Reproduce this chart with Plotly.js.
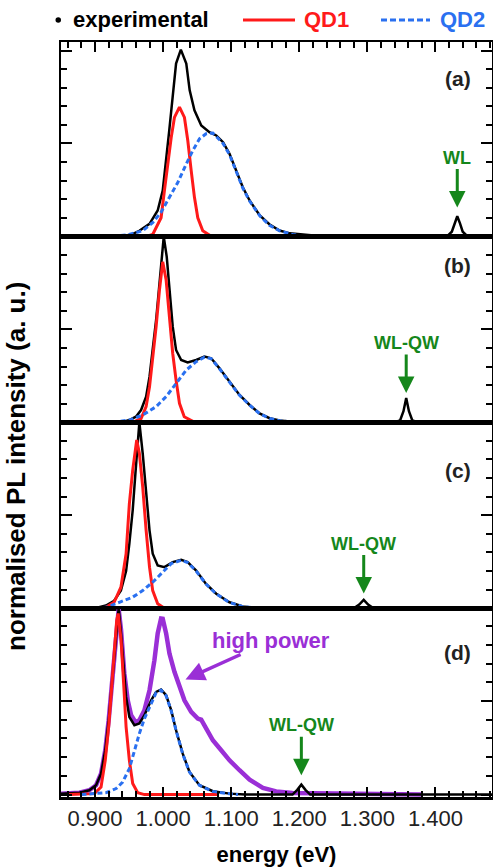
<!DOCTYPE html>
<html>
<head>
<meta charset="utf-8">
<script src="https://cdn.plot.ly/plotly-3.0.1.min.js"></script>
<style>html,body{margin:0;padding:0;background:#fff;}#chart{width:493px;height:867px;}</style>
</head>
<body>
<div id="chart"></div>
<script>
// ---- panel (a) ----
const aExpE = [0.85, 0.90, 0.92, 0.94, 0.955, 0.965, 0.980, 0.992, 0.9994, 1.004, 1.009, 1.014, 1.019, 1.026, 1.034, 1.039, 1.046, 1.056, 1.068, 1.078, 1.088, 1.0975, 1.107, 1.117, 1.127, 1.142, 1.156, 1.171, 1.186, 1.205, 1.225, 1.30, 1.40, 1.418, 1.424, 1.428, 1.432, 1.436, 1.440, 1.446, 1.485];
const aExpV = [0.0, 0.0, -0.005, 0.0, 0.012, 0.03, 0.067, 0.139, 0.246, 0.39, 0.57, 0.75, 0.93, 1.005, 0.93, 0.786, 0.678, 0.597, 0.561, 0.543, 0.507, 0.444, 0.354, 0.264, 0.193, 0.112, 0.065, 0.031, 0.016, 0.008, 0.003, 0.0, 0.0, 0.004, 0.025, 0.07, 0.108, 0.07, 0.025, 0.004, 0.0];
const aQd1E = [0.92, 0.975, 0.9847, 0.997, 1.0019, 1.0068, 1.0118, 1.0166, 1.024, 1.0313, 1.0362, 1.0412, 1.046, 1.0509, 1.0582, 1.0706, 1.21];
const aQd1V = [0, 0, 0.01, 0.10, 0.246, 0.39, 0.53, 0.64, 0.696, 0.64, 0.516, 0.354, 0.21, 0.10, 0.03, 0, 0];
const aQd2E = [0.926, 0.95, 0.970, 0.985, 0.997, 1.0093, 1.0215, 1.034, 1.0436, 1.0534, 1.063, 1.073, 1.088, 1.0975, 1.107, 1.117, 1.127, 1.142, 1.156, 1.171, 1.19, 1.21];
const aQd2V = [0, 0.01, 0.03, 0.075, 0.13, 0.21, 0.29, 0.39, 0.462, 0.525, 0.552, 0.556, 0.50, 0.44, 0.35, 0.26, 0.19, 0.11, 0.06, 0.03, 0.01, 0.0];

// ---- panel (b) ----
const bExpE = [0.85, 0.94, 0.9504, 0.960, 0.9676, 0.975, 0.980, 0.9847, 0.9897, 0.9946, 0.998, 1.0009, 1.0053, 1.0093, 1.0141, 1.019, 1.0265, 1.036, 1.0485, 1.0607, 1.0706, 1.0828, 1.0975, 1.1122, 1.127, 1.1416, 1.1563, 1.171, 1.19, 1.34, 1.348, 1.353, 1.357, 1.361, 1.366, 1.374, 1.485];
const bExpV = [0, 0, 0.012, 0.03, 0.066, 0.138, 0.245, 0.389, 0.55, 0.746, 0.89, 0.998, 0.89, 0.711, 0.514, 0.389, 0.335, 0.322, 0.335, 0.353, 0.344, 0.29, 0.218, 0.147, 0.093, 0.048, 0.022, 0.01, 0.003, 0, 0.01, 0.06, 0.13, 0.06, 0.01, 0, 0];
const bQd1E = [0.93, 0.955, 0.9676, 0.975, 0.980, 0.9847, 0.9897, 0.9946, 0.9994, 1.0044, 1.0093, 1.0141, 1.019, 1.024, 1.031, 1.045, 1.19];
const bQd1V = [0, 0, 0.02, 0.084, 0.191, 0.335, 0.514, 0.711, 0.863, 0.765, 0.567, 0.37, 0.227, 0.102, 0.03, 0.003, 0];
const bQd2E = [0.926, 0.9504, 0.970, 0.9897, 1.0044, 1.019, 1.034, 1.0485, 1.0607, 1.0706, 1.0828, 1.0975, 1.1122, 1.127, 1.1416, 1.1563, 1.171, 1.19];
const bQd2V = [0, 0.012, 0.039, 0.084, 0.138, 0.21, 0.281, 0.326, 0.35, 0.342, 0.288, 0.216, 0.145, 0.092, 0.047, 0.021, 0.009, 0];

// ---- panel (c) ----
const cExpE = [0.85, 0.90, 0.916, 0.928, 0.938, 0.9456, 0.9504, 0.9553, 0.9593, 0.9627, 0.9651, 0.970, 0.975, 0.980, 0.9847, 0.992, 1.0019, 1.0141, 1.0265, 1.036, 1.0485, 1.063, 1.078, 1.0975, 1.117, 1.14, 1.28, 1.288, 1.2946, 1.301, 1.309, 1.485];
const cExpV = [0, 0, 0.015, 0.04, 0.095, 0.2, 0.347, 0.527, 0.725, 0.905, 1.0, 0.833, 0.617, 0.419, 0.293, 0.23, 0.221, 0.248, 0.261, 0.248, 0.203, 0.131, 0.078, 0.032, 0.01, 0, 0, 0.02, 0.045, 0.02, 0, 0];
const cQd1E = [0.90, 0.916, 0.928, 0.938, 0.9456, 0.9504, 0.9553, 0.9612, 0.9651, 0.970, 0.975, 0.980, 0.9847, 0.992, 1.002, 1.145];
const cQd1V = [0, 0.005, 0.032, 0.113, 0.293, 0.563, 0.743, 0.905, 0.833, 0.653, 0.42, 0.221, 0.095, 0.024, 0, 0];
const cQd2E = [0.90, 0.916, 0.9357, 0.9553, 0.970, 0.9847, 0.9994, 1.0118, 1.0265, 1.036, 1.0485, 1.063, 1.078, 1.0975, 1.117, 1.14];
const cQd2V = [0, 0.005, 0.032, 0.06, 0.095, 0.14, 0.194, 0.24, 0.258, 0.246, 0.2, 0.13, 0.077, 0.031, 0.009, 0];

// ---- panel (d) ----
const dExpE = [0.85, 0.877, 0.8916, 0.9015, 0.9088, 0.915, 0.920, 0.925, 0.9289, 0.9318, 0.9347, 0.9382, 0.9416, 0.9456, 0.9504, 0.9578, 0.9651, 0.9725, 0.9824, 0.9897, 0.997, 1.0044, 1.0118, 1.019, 1.0288, 1.0387, 1.0534, 1.073, 1.0975, 1.12, 1.19, 1.197, 1.203, 1.209, 1.216, 1.485];
const dExpV = [0.005, 0.01, 0.023, 0.05, 0.112, 0.237, 0.397, 0.594, 0.772, 0.896, 0.995, 0.861, 0.682, 0.522, 0.415, 0.371, 0.38, 0.424, 0.504, 0.549, 0.561, 0.531, 0.451, 0.344, 0.219, 0.121, 0.05, 0.018, 0.005, 0, 0, 0.025, 0.053, 0.025, 0, 0];
const dHighE = [0.85, 0.877, 0.8916, 0.9015, 0.9088, 0.915, 0.920, 0.925, 0.9289, 0.9318, 0.9347, 0.9382, 0.943, 0.948, 0.953, 0.9593, 0.9651, 0.9725, 0.980, 0.9872, 0.992, 0.997, 0.9994, 1.0044, 1.0093, 1.0166, 1.024, 1.0313, 1.0412, 1.0509, 1.0559, 1.063, 1.073, 1.0853, 1.0975, 1.1122, 1.127, 1.1465, 1.166, 1.19, 1.25, 1.38];
const dHighV = [0.005, 0.01, 0.023, 0.05, 0.112, 0.237, 0.397, 0.594, 0.772, 0.896, 0.99, 0.88, 0.647, 0.504, 0.424, 0.388, 0.397, 0.451, 0.558, 0.718, 0.861, 0.941, 0.94, 0.861, 0.754, 0.656, 0.575, 0.504, 0.442, 0.406, 0.40, 0.353, 0.29, 0.237, 0.183, 0.13, 0.08, 0.036, 0.017, 0.008, 0.004, 0.0];
const dQd1E = [0.86, 0.899, 0.9088, 0.915, 0.920, 0.925, 0.9289, 0.9318, 0.934, 0.9382, 0.942, 0.9456, 0.9504, 0.9553, 0.9627, 0.9725, 1.08];
const dQd1V = [0, 0.005, 0.04, 0.183, 0.362, 0.594, 0.79, 0.932, 0.968, 0.825, 0.594, 0.362, 0.183, 0.059, 0.01, 0, 0];
const dQd2E = [0.88, 0.9015, 0.916, 0.931, 0.9406, 0.9504, 0.9578, 0.9651, 0.9725, 0.9824, 0.9897, 0.997, 1.0044, 1.0118, 1.019, 1.0288, 1.0387, 1.0534, 1.073, 1.0975, 1.11];
const dQd2V = [0, 0.005, 0.01, 0.032, 0.067, 0.139, 0.237, 0.326, 0.406, 0.487, 0.545, 0.558, 0.528, 0.448, 0.342, 0.217, 0.12, 0.049, 0.017, 0.004, 0];

const xTickVals = [0.9, 1.0, 1.1, 1.2, 1.3, 1.4];
const xTickText = ['0.900', '1.000', '1.100', '1.200', '1.300', '1.400'];
const panelLabels = ['(a)', '(b)', '(c)', '(d)'];
const peakLabels = ['WL', 'WL-QW', 'WL-QW', 'WL-QW'];
const peakE = [1.432, 1.357, 1.2946, 1.203];
const peakTipV = [0.155, 0.158, 0.079, 0.103];

const FONT = 'Liberation Sans, Arial, sans-serif';
const RED = '#ff1a1a', BLUE = '#2a70f0', GREEN = '#15871b', PURPLE = '#9a2fd6';

const panels = [
  {exE: aExpE, exV: aExpV, q1E: aQd1E, q1V: aQd1V, q2E: aQd2E, q2V: aQd2V},
  {exE: bExpE, exV: bExpV, q1E: bQd1E, q1V: bQd1V, q2E: bQd2E, q2V: bQd2V},
  {exE: cExpE, exV: cExpV, q1E: cQd1E, q1V: cQd1V, q2E: cQd2E, q2V: cQd2V},
  {exE: dExpE, exV: dExpV, q1E: dQd1E, q1V: dQd1V, q2E: dQd2E, q2V: dQd2V}
];

const traces = [];
traces.push({x: dHighE, y: dHighV, xaxis: 'x4', yaxis: 'y4', mode: 'lines', name: 'high power',
  line: {color: PURPLE, width: 4.5}, showlegend: false});
panels.forEach((p, i) => {
  const xa = i === 0 ? 'x' : 'x' + (i + 1);
  const ya = i === 0 ? 'y' : 'y' + (i + 1);
  traces.push({x: p.exE, y: p.exV, xaxis: xa, yaxis: ya, mode: 'lines', name: 'experimental',
    line: {color: '#000', width: 2.5}, showlegend: false});
  traces.push({x: p.q1E, y: p.q1V, xaxis: xa, yaxis: ya, mode: 'lines', name: 'QD1',
    line: {color: RED, width: 3}, showlegend: false});
  traces.push({x: p.q2E, y: p.q2V, xaxis: xa, yaxis: ya, mode: 'lines', name: 'QD2',
    line: {color: BLUE, width: 3, dash: '5px,3px'}, showlegend: false});
});

const xRange = [0.85, 1.483];
const domains = [[0.7426, 1], [0.4963, 0.7426], [0.25, 0.4963], [0, 0.25]];
const yRanges = [[0, 1.046], [0, 1.0], [0, 1.0], [-0.013, 0.996]];

const layout = {
  width: 493, height: 867,
  margin: {l: 61, r: 1, t: 42, b: 70},
  paper_bgcolor: '#fff', plot_bgcolor: '#fff',
  font: {family: FONT, color: '#000'},
  showlegend: false,
  annotations: [], shapes: []
};

for (let i = 0; i < 4; i++) {
  const xk = i === 0 ? 'xaxis' : 'xaxis' + (i + 1);
  const yk = i === 0 ? 'yaxis' : 'yaxis' + (i + 1);
  const yid = i === 0 ? 'y' : 'y' + (i + 1);
  const xid = i === 0 ? 'x' : 'x' + (i + 1);
  const xa = {
    anchor: yid, range: xRange, showgrid: false, zeroline: false,
    showline: true, linecolor: '#000', linewidth: 2.5, mirror: true,
    showticklabels: false, ticks: ''
  };
  if (i > 0) xa.matches = 'x';
  if (i === 0) {
    Object.assign(xa, {side: 'top', ticks: 'inside', ticklen: 10, tickwidth: 2, tickcolor: '#000',
      tickvals: xTickVals, minor: {dtick: 0.02, tick0: 0.84, ticks: 'inside', ticklen: 6, tickwidth: 2, tickcolor: '#000'}});
  }
  if (i === 3) {
    Object.assign(xa, {side: 'bottom', ticks: 'inside', ticklen: 10, tickwidth: 2, tickcolor: '#000',
      tickvals: xTickVals, ticktext: xTickText, showticklabels: true,
      tickfont: {family: FONT, size: 22, color: '#222'},
      minor: {dtick: 0.02, tick0: 0.84, ticks: 'inside', ticklen: 6, tickwidth: 2, tickcolor: '#000'},
      title: {text: '<b>energy (eV)</b>', font: {family: FONT, size: 22, color: '#000'}, standoff: 18}});
  }
  layout[xk] = xa;
  layout[yk] = {
    anchor: xid, domain: domains[i], range: yRanges[i], showgrid: false, zeroline: false,
    showline: true, linecolor: '#000', linewidth: 2.5, mirror: 'ticks',
    showticklabels: false, ticks: 'inside', ticklen: 11, tickwidth: 2, tickcolor: '#000',
    tick0: 0, dtick: 0.5,
    minor: {dtick: 0.1, tick0: 0, ticks: 'inside', ticklen: 6, tickwidth: 2, tickcolor: '#000'}
  };
  const labY = [0.951, 0.7046, 0.433, 0.192][i];
  layout.annotations.push({xref: 'paper', yref: 'paper', x: 0.921, y: labY, text: '<b>' + panelLabels[i] + '</b>',
    showarrow: false, font: {family: FONT, size: 21, color: '#222'}, xanchor: 'center', yanchor: 'middle'});
  layout.annotations.push({xref: xid, yref: yid, x: peakE[i], y: peakTipV[i], text: '<b>' + peakLabels[i] + '</b>',
    showarrow: true, arrowhead: 2, arrowsize: 1.1, arrowwidth: 3, arrowcolor: GREEN, ax: 0, ay: -50, standoff: 0,
    font: {family: FONT, size: 18, color: GREEN}});
}

layout.annotations.push({xref: 'x4', yref: 'y4', x: 1.0328, y: 0.615, text: '<b>high power</b>',
  showarrow: true, arrowhead: 2, arrowsize: 1.1, arrowwidth: 3.5, arrowcolor: PURPLE, ax: 86, ay: -39, standoff: 0,
  font: {family: FONT, size: 22, color: PURPLE}});

layout.annotations.push({xref: 'paper', yref: 'paper', x: (16 - 61) / 431, y: (797 - 467) / 755, text: '<b>normalised PL intensity (a. u.)</b>',
  textangle: -90, showarrow: false, xanchor: 'center', yanchor: 'middle', font: {family: FONT, size: 26, color: '#000'}});

const ly = (797 - 20) / 755;
const px = v => (v - 61) / 431;
layout.shapes.push({type: 'circle', xref: 'paper', yref: 'paper', x0: px(55.5), x1: px(61), y0: ly - 2.75 / 755, y1: ly + 2.75 / 755,
  fillcolor: '#000', line: {width: 0}});
layout.annotations.push({xref: 'paper', yref: 'paper', x: px(71), y: ly, text: '<b>experimental</b>', showarrow: false,
  xanchor: 'left', yanchor: 'middle', font: {family: FONT, size: 22, color: '#000'}});
layout.shapes.push({type: 'line', xref: 'paper', yref: 'paper', x0: px(243), x1: px(295), y0: ly, y1: ly, line: {color: RED, width: 3}});
layout.annotations.push({xref: 'paper', yref: 'paper', x: px(302), y: ly, text: '<b>QD1</b>', showarrow: false,
  xanchor: 'left', yanchor: 'middle', font: {family: FONT, size: 22, color: RED}});
layout.shapes.push({type: 'line', xref: 'paper', yref: 'paper', x0: px(381), x1: px(430), y0: ly, y1: ly, line: {color: BLUE, width: 3, dash: '6px,3px'}});
layout.annotations.push({xref: 'paper', yref: 'paper', x: px(438), y: ly, text: '<b>QD2</b>', showarrow: false,
  xanchor: 'left', yanchor: 'middle', font: {family: FONT, size: 22, color: BLUE}});

Plotly.newPlot('chart', traces, layout, {displayModeBar: false, staticPlot: true});
</script>
</body>
</html>
